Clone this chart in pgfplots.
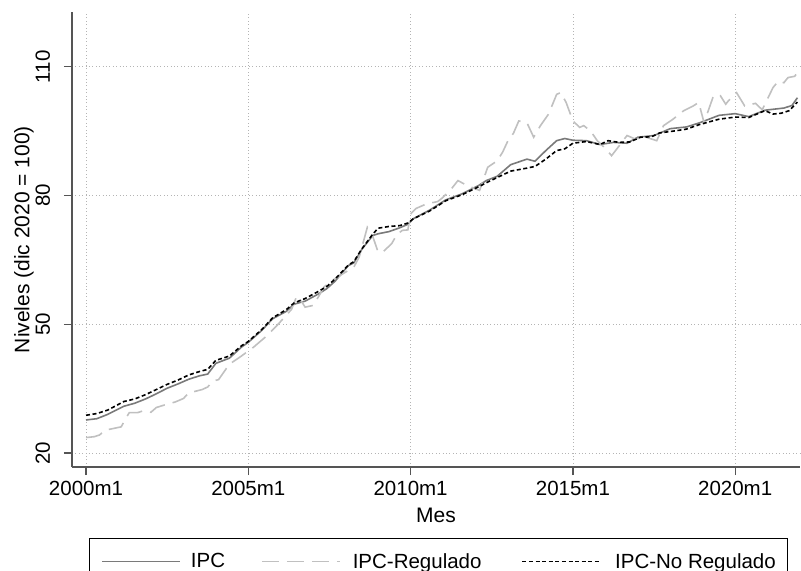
\documentclass[border=0pt]{standalone}
\usepackage{fontspec}
\setmainfont{Liberation Sans}
\usepackage{pgfplots}
\pgfplotsset{compat=1.18}
\definecolor{ipcgray}{HTML}{7A7A7A}
\definecolor{reggray}{HTML}{C0C0C0}
\definecolor{axgray}{HTML}{555555}
\definecolor{gridgray}{HTML}{B4B4B4}
\newcommand{\lblfont}{\fontsize{20.5bp}{24bp}\selectfont}
\newcommand{\ttlfont}{\fontsize{21bp}{25bp}\selectfont}
\begin{document}
\begin{tikzpicture}
\useasboundingbox (-72bp,-104bp) rectangle (729bp,467bp);
\begin{axis}[
  at={(0,0)}, anchor=south west,
  scale only axis, width=728bp, height=455bp,
  xmin=-5.18, xmax=263.96, ymin=16.74, ymax=122.79,
  axis x line*=bottom, axis y line*=left,
  axis line style={axgray, line width=1.2bp},
  tick style={axgray, line width=1.2bp},
  tick align=outside, major tick length=8bp,
  xtick={0,60,120,180,240},
  xticklabels={2000m1,2005m1,2010m1,2015m1,2020m1},
  ytick={20,50,80,110},
  grid=major,
  major grid style={gridgray, line width=0.8bp, dash pattern=on 0.8bp off 2.6bp},
  /pgf/number format/assume math mode=true,
  ticklabel style={font=\lblfont, inner sep=0pt},
  xticklabel style={anchor=base, yshift=-20.5bp},
  yticklabel style={rotate=90, anchor=south, outer ysep=14bp},
  xlabel={Mes}, ylabel={Niveles (dic 2020 = 100)},
  every axis x label/.style={at={(axis description cs:0.5,0)}, anchor=center, yshift=-48bp, font=\ttlfont},
  every axis y label/.style={at={(axis description cs:0,0.5)}, rotate=90, anchor=center, yshift=48bp, font=\ttlfont},
  legend columns=3,
  legend cell align=left,
  legend image code/.code={\draw[#1] (0bp,0bp) -- (78bp,0bp);},
  legend style={at={(axis description cs:0.02335,-0.15604)}, anchor=north west,
    draw=black, line width=0.8bp, font=\lblfont,
    inner xsep=12bp, inner ysep=15bp,
    /tikz/column 1/.style={column sep=10bp},
    /tikz/column 2/.style={column sep=36bp},
    /tikz/column 3/.style={column sep=12bp},
    /tikz/column 4/.style={column sep=40bp},
    /tikz/column 5/.style={column sep=14bp},
    nodes={inner sep=0pt}},
]
\addplot[ipcgray, line width=1.6bp] coordinates {
(0,27.7) (4,28.0) (8,29.0) (14,30.9) (18,31.6) (22,32.6) (26,33.8) (30,35.1)
(34,36.1) (38,37.2) (42,38.0) (45,38.4) (48,40.9) (53,42.1) (57.5,44.7) (60,45.8)
(65,48.6) (69,51.3) (74,53.0) (77,54.7) (81,55.4) (86,57.1) (89,58.3) (92,60.0)
(97,63.7) (99,64.3) (102,67.5) (106,70.7) (108,71.1) (112,71.6) (116,72.5) (119,73.3)
(121,74.6) (127,76.6) (133,79.0) (139,80.4) (145,82.3) (148,83.5) (152,84.5) (157,87.2)
(163,88.5) (166,88.0) (170,90.5) (174,92.8) (177,93.3) (180,92.9) (185,92.8) (190,91.9)
(195,92.4) (200,92.2) (204,93.6) (210,94.0) (216,95.6) (222,96.0) (227,97.0) (234,98.7)
(240,99.1) (245,98.4) (251,99.9) (258,100.4) (261,101.0) (263,102.8)
};
\addlegendentry{IPC}
\addplot[reggray, line width=1.6bp, dash pattern=on 17bp off 8bp] coordinates {
(0,23.6) (3,23.8) (5,24.2) (7,25.3) (10,25.7) (13,26.1) (15,28.4) (16,29.4)
(19,29.4) (21,29.8) (24,29.5) (26,30.6) (29,31.2) (33,31.9) (36,32.7) (38,34.0)
(43,34.8) (45,35.4) (47,36.8) (49,37.1) (51,38.9) (53,40.7) (57,42.4) (62,44.7)
(67,47.4) (71,50.0) (74,52.1) (76,53.5) (78,56.7) (80,55.0) (81,54.0) (84,54.4)
(86,56.5) (88,58.7) (91,60.2) (95,61.8) (99,63.3) (101,65.7) (104,72.6) (106,70.5)
(108,66.8) (110,67.0) (113,68.8) (115,71.0) (117,71.9) (119,72.0) (120,75.7) (122,77.0)
(126,78.1) (130,78.6) (132,79.6) (135,81.5) (137.5,83.5) (141,82.3) (145.5,81.2) (148.5,86.6)
(152,88.1) (154,90.1) (156,92.8) (158,94.5) (160,97.4) (163,97.0) (165.5,93.6) (168,96.3)
(171,99.0) (174,103.6) (175.5,104.0) (177.5,101.7) (180,97.4) (182.5,95.9) (184,96.3) (186.5,95.1)
(189,92.8) (192,91.0) (194.3,89.3) (197,91.5) (200,94.0) (203,93.2) (207,93.6) (211,92.8)
(213.5,96.3) (217,97.8) (221,99.8) (224.5,100.9) (226.5,101.7) (228.5,97.0) (232,103.3) (234.5,103.3)
(236.5,101.3) (237.5,102.1) (240.5,104.0) (243.5,100.9) (247.5,101.5) (250,100.0) (254,105.2) (256,106.7)
(258,106.3) (259.5,107.5) (262,107.8) (263,108.7)
};
\addlegendentry{IPC-Regulado}
\addplot[black, line width=1.6bp, dash pattern=on 4bp off 2.6bp] coordinates {
(0,28.8) (4,29.2) (8,30.0) (14,32.0) (18,32.6) (22,33.6) (26,34.8) (30,36.0)
(34,37.0) (38,38.2) (42,39.0) (45,39.5) (48,41.6) (53,42.6) (57.5,45.0) (60,46.0)
(65,48.8) (69,51.5) (74,53.4) (77,55.0) (81,56.0) (86,57.7) (89,58.8) (92,60.5)
(97,63.8) (99,64.6) (102,67.6) (106,71.0) (108,72.4) (112,72.8) (116,73.0) (119,73.6)
(121,74.6) (127,76.4) (133,78.8) (139,80.2) (145,82.0) (148,83.0) (152,84.2) (157,85.7)
(163,86.4) (166,86.8) (170,88.5) (174,90.5) (177,90.9) (180,92.2) (185,92.6) (190,91.9)
(193,92.8) (197,92.4) (201,92.5) (205,93.6) (209,93.7) (212,94.6) (218,95.1) (222,95.5)
(227,96.6) (234,97.8) (240,98.3) (245,98.2) (251,99.8) (254,99.0) (257,99.2) (260,99.8)
(263,101.8)
};
\addlegendentry{IPC-No Regulado}
\end{axis}
\end{tikzpicture}
\end{document}
